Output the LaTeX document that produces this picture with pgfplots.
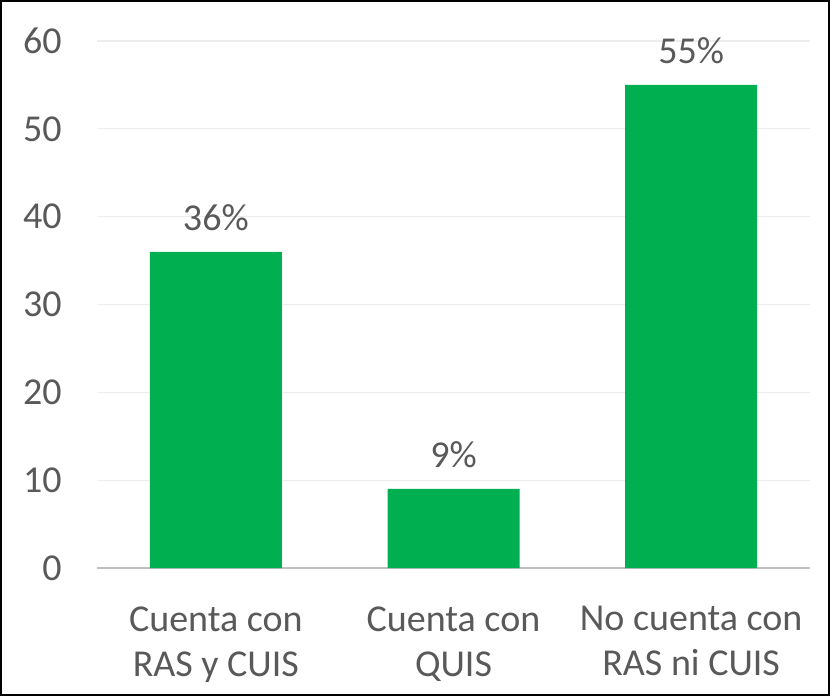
\documentclass[border=0pt]{standalone}
\usepackage{pgfplots}
\pgfplotsset{compat=1.18}
\usepackage{fontspec}
\setmainfont{Carlito}
\definecolor{barg}{HTML}{00B050}
\definecolor{txt}{HTML}{595959}
\definecolor{grid}{HTML}{EDEDED}
\definecolor{axl}{HTML}{BFBFBF}
\begin{document}
\begin{tikzpicture}
\begin{axis}[
    scale only axis,
    width=356.5pt, height=263.5pt,
    xmin=-0.5, xmax=2.5,
    ymin=0, ymax=60,
    ytick distance=10,
    xtick=data,
    xticklabels={{Cuenta con\\RAS y CUIS},{Cuenta con\\QUIS},{No cuenta con\\RAS ni CUIS}},
    ybar, bar width=66pt,
    axis x line*=bottom, axis y line*=left,
    y axis line style={draw=none},
    x axis line style={draw=axl, line width=1.25pt},
    major tick length=0pt, tick style={draw=none},
    ymajorgrids, grid style={draw=grid, line width=0.6pt},
    font=\fontsize{19}{22.5}\selectfont,
    ticklabel style={text=txt},
    /pgf/number format/assume math mode=true,
    yticklabel style={anchor=east, inner sep=0pt, xshift=-17.5pt},
    xticklabel style={align=center, anchor=north, inner sep=0pt, yshift=-19pt},
    nodes near coords={\pgfmathprintnumber{\pgfplotspointmeta}\%},
    every node near coord/.append style={text=txt, inner sep=0pt, yshift=10.5pt},
    clip=false,
]
\addplot[fill=barg, draw=none] coordinates {(0,36) (1,9) (2,55)};
\draw[black, line width=1.2pt] ([xshift=-47.9pt, yshift=19.9pt]rel axis cs:0,1) rectangle ([xshift=9.4pt, yshift=-63.4pt]rel axis cs:1,0);
\end{axis}
\end{tikzpicture}
\end{document}
